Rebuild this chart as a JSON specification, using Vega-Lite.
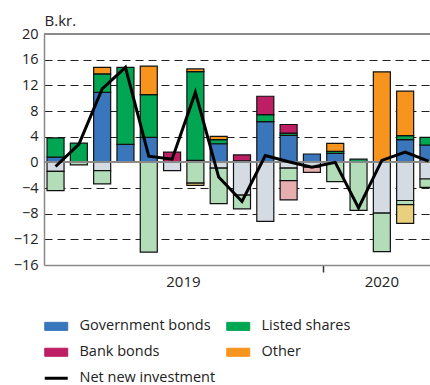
{
  "$schema": "https://vega.github.io/schema/vega-lite/v6.json",
  "autosize": {"type": "none"},
  "padding": {"left": 44, "top": 34, "right": 0, "bottom": 120},
  "width": 386,
  "height": 231,
  "config": {
    "font": "Open Sans",
    "view": {"stroke": null},
    "axisY": {
      "titleAngle": 0, "titleAlign": "left", "titleBaseline": "alphabetic",
      "titleX": 0, "titleY": -9, "titleFontSize": 15, "titleFontWeight": "normal", "titleColor": "#222",
      "labelFontSize": 14.5, "labelColor": "#222", "labelPadding": 6, "ticks": false, "labelOverlap": false,
      "domainColor": "#8a8a8a", "domainWidth": 1.5,
      "grid": true, "gridDash": [8, 5], "gridColor": "#222", "gridWidth": 1
    }
  },
  "data": {"values": [
    {"month": "2019-01", "cat": "Government bonds", "v": 0.8},
    {"month": "2019-01", "cat": "Listed shares", "v": 3.0},
    {"month": "2019-01", "cat": "Government bonds (sold)", "v": -1.4},
    {"month": "2019-01", "cat": "Listed shares (sold)", "v": -3.0},
    {"month": "2019-01", "cat": "Net new investment", "v": -0.65},
    {"month": "2019-02", "cat": "Listed shares", "v": 3.0},
    {"month": "2019-02", "cat": "Listed shares (sold)", "v": -0.4},
    {"month": "2019-02", "cat": "Net new investment", "v": 2.8},
    {"month": "2019-03", "cat": "Government bonds", "v": 10.9},
    {"month": "2019-03", "cat": "Listed shares", "v": 2.9},
    {"month": "2019-03", "cat": "Other", "v": 1.0},
    {"month": "2019-03", "cat": "Government bonds (sold)", "v": -1.3},
    {"month": "2019-03", "cat": "Listed shares (sold)", "v": -2.05},
    {"month": "2019-03", "cat": "Net new investment", "v": 11.45},
    {"month": "2019-04", "cat": "Government bonds", "v": 2.8},
    {"month": "2019-04", "cat": "Listed shares", "v": 12.0},
    {"month": "2019-04", "cat": "Net new investment", "v": 14.8},
    {"month": "2019-05", "cat": "Government bonds", "v": 3.9},
    {"month": "2019-05", "cat": "Listed shares", "v": 6.65},
    {"month": "2019-05", "cat": "Other", "v": 4.45},
    {"month": "2019-05", "cat": "Listed shares (sold)", "v": -14.0},
    {"month": "2019-05", "cat": "Net new investment", "v": 0.95},
    {"month": "2019-06", "cat": "Bank bonds", "v": 1.6},
    {"month": "2019-06", "cat": "Government bonds (sold)", "v": -1.3},
    {"month": "2019-06", "cat": "Net new investment", "v": 0.5},
    {"month": "2019-07", "cat": "Government bonds", "v": 0.3},
    {"month": "2019-07", "cat": "Listed shares", "v": 13.85},
    {"month": "2019-07", "cat": "Other", "v": 0.4},
    {"month": "2019-07", "cat": "Listed shares (sold)", "v": -3.25},
    {"month": "2019-07", "cat": "Other (sold)", "v": -0.35},
    {"month": "2019-07", "cat": "Net new investment", "v": 10.9},
    {"month": "2019-08", "cat": "Government bonds", "v": 2.9},
    {"month": "2019-08", "cat": "Listed shares", "v": 0.65},
    {"month": "2019-08", "cat": "Other", "v": 0.5},
    {"month": "2019-08", "cat": "Government bonds (sold)", "v": -0.9},
    {"month": "2019-08", "cat": "Listed shares (sold)", "v": -5.55},
    {"month": "2019-08", "cat": "Net new investment", "v": -2.3},
    {"month": "2019-09", "cat": "Listed shares", "v": 0.25},
    {"month": "2019-09", "cat": "Bank bonds", "v": 0.9},
    {"month": "2019-09", "cat": "Government bonds (sold)", "v": -5.1},
    {"month": "2019-09", "cat": "Listed shares (sold)", "v": -2.15},
    {"month": "2019-09", "cat": "Net new investment", "v": -6.1},
    {"month": "2019-10", "cat": "Government bonds", "v": 6.35},
    {"month": "2019-10", "cat": "Listed shares", "v": 1.1},
    {"month": "2019-10", "cat": "Bank bonds", "v": 2.85},
    {"month": "2019-10", "cat": "Government bonds (sold)", "v": -9.2},
    {"month": "2019-10", "cat": "Net new investment", "v": 1.05},
    {"month": "2019-11", "cat": "Government bonds", "v": 4.2},
    {"month": "2019-11", "cat": "Listed shares", "v": 0.35},
    {"month": "2019-11", "cat": "Bank bonds", "v": 1.35},
    {"month": "2019-11", "cat": "Government bonds (sold)", "v": -0.9},
    {"month": "2019-11", "cat": "Listed shares (sold)", "v": -1.95},
    {"month": "2019-11", "cat": "Bank bonds (sold)", "v": -3.0},
    {"month": "2019-11", "cat": "Net new investment", "v": 0.1},
    {"month": "2019-12", "cat": "Government bonds", "v": 1.3},
    {"month": "2019-12", "cat": "Government bonds (sold)", "v": -0.75},
    {"month": "2019-12", "cat": "Bank bonds (sold)", "v": -0.8},
    {"month": "2019-12", "cat": "Net new investment", "v": -0.75},
    {"month": "2020-01", "cat": "Government bonds", "v": 1.4},
    {"month": "2020-01", "cat": "Listed shares", "v": 0.3},
    {"month": "2020-01", "cat": "Other", "v": 1.25},
    {"month": "2020-01", "cat": "Listed shares (sold)", "v": -3.0},
    {"month": "2020-01", "cat": "Net new investment", "v": 0.0},
    {"month": "2020-02", "cat": "Listed shares", "v": 0.5},
    {"month": "2020-02", "cat": "Listed shares (sold)", "v": -7.5},
    {"month": "2020-02", "cat": "Net new investment", "v": -7.1},
    {"month": "2020-03", "cat": "Other", "v": 14.1},
    {"month": "2020-03", "cat": "Government bonds (sold)", "v": -7.9},
    {"month": "2020-03", "cat": "Listed shares (sold)", "v": -6.0},
    {"month": "2020-03", "cat": "Net new investment", "v": 0.3},
    {"month": "2020-04", "cat": "Government bonds", "v": 3.55},
    {"month": "2020-04", "cat": "Listed shares", "v": 0.6},
    {"month": "2020-04", "cat": "Other", "v": 6.95},
    {"month": "2020-04", "cat": "Government bonds (sold)", "v": -5.95},
    {"month": "2020-04", "cat": "Listed shares (sold)", "v": -0.65},
    {"month": "2020-04", "cat": "Other (sold)", "v": -2.9},
    {"month": "2020-04", "cat": "Net new investment", "v": 1.6},
    {"month": "2020-05", "cat": "Government bonds", "v": 2.7},
    {"month": "2020-05", "cat": "Listed shares", "v": 1.2},
    {"month": "2020-05", "cat": "Government bonds (sold)", "v": -2.6},
    {"month": "2020-05", "cat": "Listed shares (sold)", "v": -1.3},
    {"month": "2020-05", "cat": "Net new investment", "v": 0.2}
  ]},
  "layer": [
    {
      "transform": [
        {"filter": "datum.cat !== 'Net new investment'"},
        {"calculate": "indexof(['Government bonds', 'Listed shares', 'Bank bonds', 'Other'], replace(datum.cat, ' (sold)', ''))", "as": "stackrank"}
      ],
      "mark": {"type": "bar", "stroke": "#111", "strokeWidth": 1.2},
      "encoding": {
        "x": {
          "field": "month", "type": "ordinal",
          "scale": {"range": [0, 396], "paddingInner": 0.27, "paddingOuter": 0.13},
          "axis": {
            "title": null, "labelAngle": 0, "bandPosition": -0.19, "grid": false,
            "labelExpr": "datum.value == '2019-07' ? '2019' : datum.value == '2020-03' ? '2020' : ''",
            "labelOffset": {"condition": {"test": "datum.value == '2019-07'", "value": -12}, "value": 0},
            "labelFontSize": 15, "labelColor": "#222", "labelPadding": 2,
            "ticks": true, "tickSize": 7, "tickWidth": 1.5, "tickColor": "#333",
            "tickOpacity": {"condition": {"test": "datum.value == '2020-01'", "value": 1}, "value": 0},
            "domainColor": "#8a8a8a", "domainWidth": 1.5
          }
        },
        "y": {
          "field": "v", "type": "quantitative", "stack": "zero", "title": "B.kr.",
          "scale": {"domain": [-16, 20], "nice": false, "zero": false},
          "axis": {
            "values": [-16, -12, -8, -4, 0, 4, 8, 12, 16, 20],
            "gridOpacity": {"condition": {"test": "datum.value == 0 || datum.value == 20 || datum.value == -16", "value": 0}, "value": 1}
          }
        },
        "order": {"field": "stackrank", "type": "quantitative", "sort": "ascending"},
        "color": {
          "field": "cat", "type": "nominal",
          "scale": {
            "domain": ["Government bonds", "Listed shares", "Bank bonds", "Other", "Net new investment", "Government bonds (sold)", "Listed shares (sold)", "Bank bonds (sold)", "Other (sold)"],
            "range": ["#3a76bb", "#00a651", "#be1e63", "#f7941d", "#000000", "#d5dbe3", "#b3dcb9", "#e6aeae", "#e9d07e"]
          },
          "legend": {
            "values": ["Government bonds", "Listed shares", "Bank bonds", "Other", "Net new investment"],
            "title": null, "orient": "none", "legendX": 5, "legendY": 285, "columns": 2, "direction": "horizontal",
            "columnPadding": 8, "rowPadding": 11, "padding": 0,
            "symbolSize": 529, "labelFontSize": 14.5, "labelFont": "Open Sans", "labelOffset": 16, "labelColor": "#222",
            "labelLimit": 300,
            "encode": {"symbols": {"update": {
              "shape": {"signal": "datum.value === 'Net new investment' ? 'M-1,0H1' : 'M-1,-0.35H1V0.35H-1Z'"},
              "strokeWidth": {"signal": "datum.value === 'Net new investment' ? 3 : 1"},
              "stroke": {"value": "#000"},
              "fill": {"scale": "color", "field": "value"},
              "fillOpacity": {"value": 1},
              "opacity": {"value": 1}
            }}}
          }
        }
      }
    },
    {
      "mark": {"type": "rule", "color": "#8a8a8a", "strokeWidth": 1.5},
      "encoding": {"y": {"datum": 0, "title": "B.kr.", "axis": {
        "values": [-16, -12, -8, -4, 0, 4, 8, 12, 16, 20],
        "gridOpacity": {"condition": {"test": "datum.value == 0 || datum.value == 20 || datum.value == -16", "value": 0}, "value": 1}
      }}}
    },
    {
      "mark": {"type": "rule", "color": "#8a8a8a", "strokeWidth": 1.5},
      "encoding": {"y": {"datum": 20, "title": "B.kr.", "axis": {
        "values": [-16, -12, -8, -4, 0, 4, 8, 12, 16, 20],
        "gridOpacity": {"condition": {"test": "datum.value == 0 || datum.value == 20 || datum.value == -16", "value": 0}, "value": 1}
      }}}
    },
    {
      "transform": [{"filter": "datum.cat === 'Net new investment'"}],
      "mark": {"type": "line", "strokeWidth": 3, "strokeJoin": "miter"},
      "encoding": {
        "x": {"field": "month", "type": "ordinal", "title": null},
        "y": {"field": "v", "type": "quantitative", "title": "B.kr.", "axis": {
          "values": [-16, -12, -8, -4, 0, 4, 8, 12, 16, 20],
          "gridOpacity": {"condition": {"test": "datum.value == 0 || datum.value == 20 || datum.value == -16", "value": 0}, "value": 1}
        }},
        "color": {
          "field": "cat", "type": "nominal",
          "scale": {
            "domain": ["Government bonds", "Listed shares", "Bank bonds", "Other", "Net new investment", "Government bonds (sold)", "Listed shares (sold)", "Bank bonds (sold)", "Other (sold)"],
            "range": ["#3a76bb", "#00a651", "#be1e63", "#f7941d", "#000000", "#d5dbe3", "#b3dcb9", "#e6aeae", "#e9d07e"]
          },
          "legend": {
            "values": ["Government bonds", "Listed shares", "Bank bonds", "Other", "Net new investment"],
            "title": null, "orient": "none", "legendX": 5, "legendY": 285, "columns": 2, "direction": "horizontal",
            "columnPadding": 8, "rowPadding": 11, "padding": 0,
            "symbolSize": 529, "labelFontSize": 14.5, "labelFont": "Open Sans", "labelOffset": 16, "labelColor": "#222",
            "labelLimit": 300,
            "encode": {"symbols": {"update": {
              "shape": {"signal": "datum.value === 'Net new investment' ? 'M-1,0H1' : 'M-1,-0.35H1V0.35H-1Z'"},
              "strokeWidth": {"signal": "datum.value === 'Net new investment' ? 3 : 1"},
              "stroke": {"value": "#000"},
              "fill": {"scale": "color", "field": "value"},
              "fillOpacity": {"value": 1},
              "opacity": {"value": 1}
            }}}
          }
        }
      }
    }
  ]
}
